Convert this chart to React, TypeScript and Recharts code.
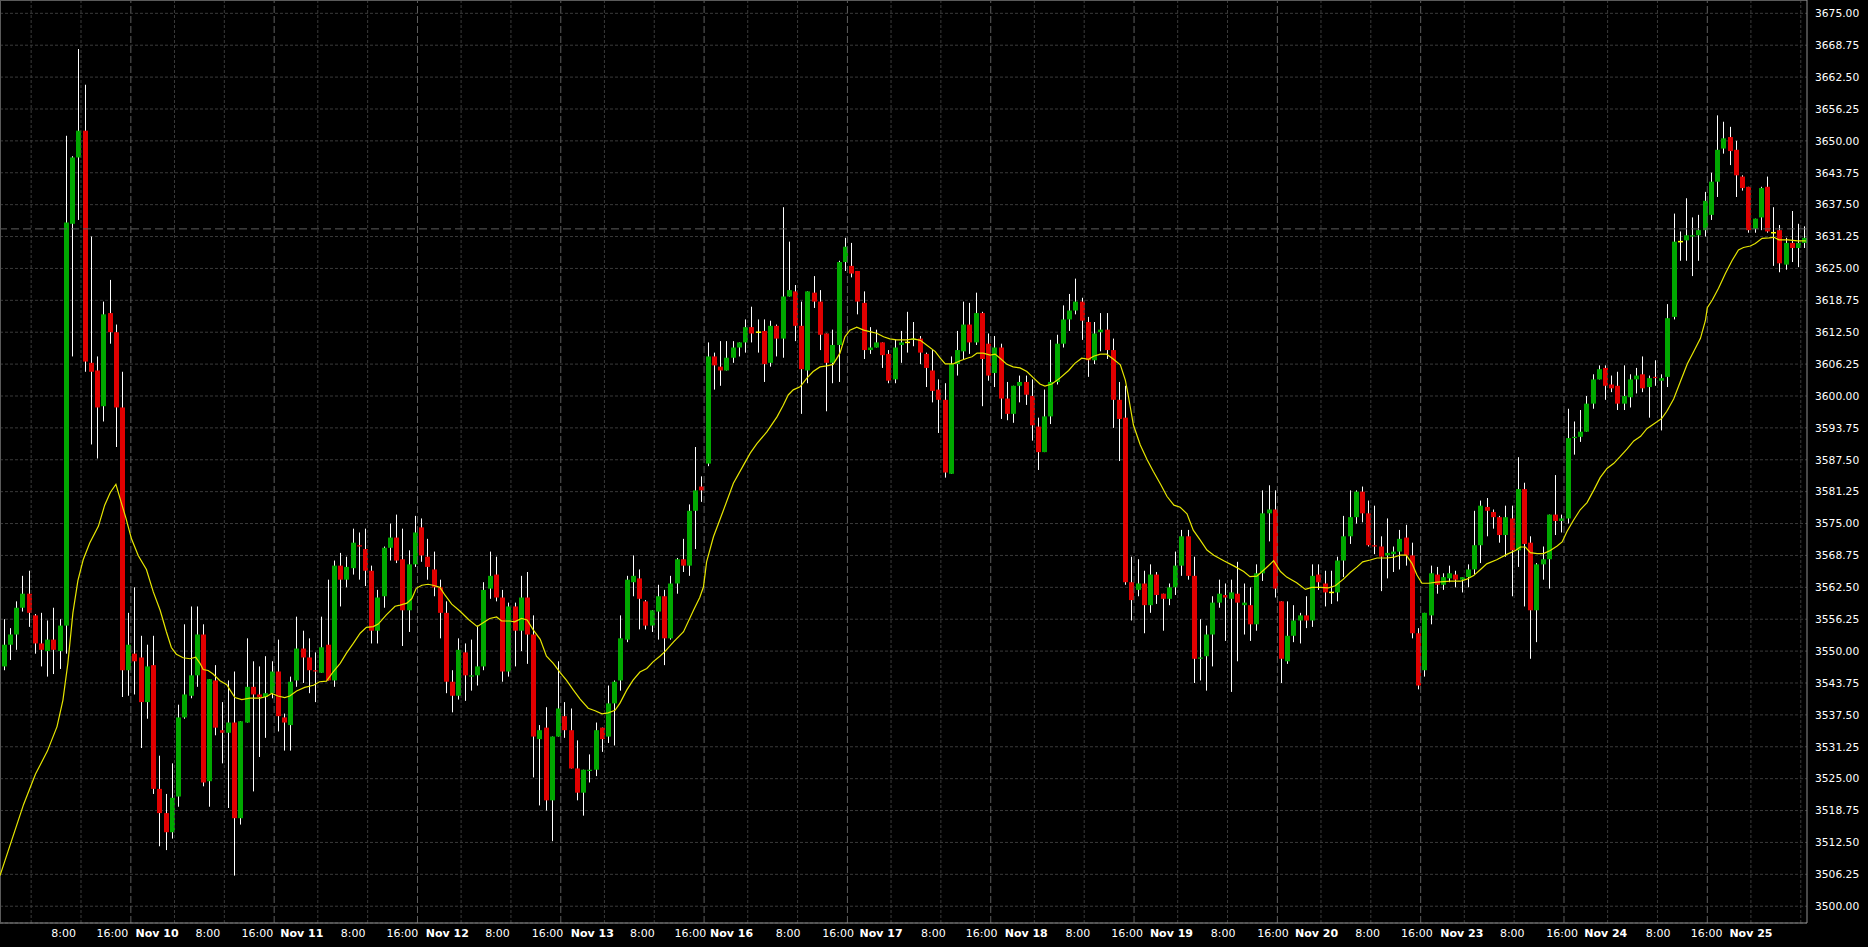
import { ComposedChart, Bar, Line, XAxis, YAxis, CartesianGrid, ReferenceLine } from "recharts"

// hourly bars, Nov 9 03:00 .. Nov 25 16:00 (server time), 23 bars per session
const opens = [
  3547, 3551.25, 3553.25, 3558.5, 3561.25, 3557, 3551.5, 3550, 3552.25, 3550,
  3555, 3633.75, 3646.75, 3652, 3606.5, 3605, 3598, 3616.25, 3612.5, 3597.75,
  3546.25, 3549.5, 3548.75, 3540, 3547.25, 3523, 3518.25, 3514.5, 3521.5, 3537,
  3541.25, 3545.25, 3553.25, 3524.5, 3544.25, 3534.5, 3534, 3536, 3517.25, 3536,
  3543, 3541.5, 3541, 3541.75, 3546, 3537, 3535.5, 3544.25, 3550.5, 3548.75,
  3546.25, 3545.75, 3551.25, 3544.25, 3566.75, 3564, 3566.25, 3570.75, 3570, 3565.75,
  3554, 3560.75, 3570.25, 3572.25, 3568, 3558, 3567, 3574.25, 3568.5, 3566,
  3562.5, 3557.5, 3544, 3541.25, 3549.75, 3545, 3545.25, 3547, 3562.25, 3565,
  3560.5, 3546, 3558.75, 3554, 3560.5, 3553.25, 3532.75, 3535, 3520.75, 3533.25,
  3537.25, 3534.5, 3527, 3522.25, 3526.5, 3526.75, 3535, 3533.25, 3539.75, 3544.25,
  3552.25, 3563.5, 3564.25, 3559.75, 3555, 3557.75, 3560.75, 3552.5, 3563.25, 3568,
  3566.75, 3577.5, 3582.25, 3586.75, 3607.75, 3605.75, 3605, 3607.5, 3609.5, 3610.5,
  3613.5, 3612.5, 3612.75, 3606.5, 3613.75, 3611.25, 3619.5, 3620.5, 3613.75, 3605,
  3620.25, 3618.5, 3612.25, 3606.5, 3610, 3626.25, 3625.5, 3624.5, 3618.25, 3609,
  3609.5, 3610.5, 3608.25, 3603.25, 3610, 3610.5, 3611, 3611.25, 3608.25, 3605,
  3601.25, 3599.25, 3584.75, 3606.25, 3608.75, 3614, 3610.5, 3616.25, 3610.25, 3604.5,
  3609.5, 3599.5, 3596.5, 3602, 3602.75, 3600, 3594, 3589, 3596, 3602.75,
  3610.25, 3615, 3616.75, 3618.5, 3614.5, 3607, 3612.5, 3613, 3609, 3599.25,
  3595.75, 3563.5, 3562, 3563.25, 3559, 3565, 3561.25, 3560.25, 3562.5, 3566.75,
  3572.5, 3564.75, 3548.5, 3549, 3553.25, 3559.5, 3561, 3560.25, 3561.25, 3559,
  3559, 3555.25, 3565.25, 3577, 3577.75, 3559.75, 3548, 3553, 3556, 3557,
  3556, 3565, 3563.25, 3561.5, 3561.5, 3567.75, 3572.5, 3576.25, 3581.25, 3577,
  3570.75, 3570.5, 3568.75, 3569, 3569.5, 3572.25, 3568.75, 3553.5, 3546.25, 3557,
  3565, 3563, 3564.25, 3565, 3564, 3564.5, 3566, 3570.75, 3578.25, 3577.25,
  3576.25, 3572.75, 3576, 3569.75, 3581.75, 3571.25, 3558, 3567, 3568, 3576.75,
  3575.5, 3576, 3591.75, 3592, 3593, 3598.5, 3603.25, 3605.5, 3602.25, 3602,
  3598.5, 3599.75, 3603.25, 3604.25, 3601.75, 3603.75, 3603, 3603.75, 3615.5, 3630.25,
  3630.5, 3631.25, 3631.5, 3632.5, 3635.5, 3642, 3648.5, 3650.75, 3648.25, 3643,
  3641, 3632.75, 3635, 3641, 3632, 3632.5, 3625.75, 3630, 3629, 3630,
]

const highs = [
  3556.25, 3554.5, 3559.75, 3564.75, 3565.75, 3557.25, 3557.5, 3556, 3558.5, 3556.25,
  3651, 3647, 3668, 3661, 3631.25, 3607.75, 3618.5, 3622.75, 3614, 3604.75,
  3557.5, 3562.5, 3553, 3551.25, 3553, 3529.5, 3522, 3528, 3539.5, 3555.25,
  3558.75, 3558.75, 3555.25, 3544.5, 3547.25, 3540, 3544.25, 3546, 3536.25, 3552.5,
  3548, 3547, 3549, 3548, 3552.25, 3537.75, 3545, 3556.75, 3554, 3552.5,
  3549.75, 3556.75, 3564, 3567.75, 3569.25, 3568.5, 3574, 3573.25, 3574, 3566.75,
  3562, 3570.5, 3575, 3576.75, 3574, 3569.75, 3576.5, 3576, 3572, 3569.5,
  3564, 3559.75, 3546.25, 3552.5, 3551.5, 3552.25, 3555, 3563.5, 3569.5, 3568.5,
  3562, 3559.5, 3559.5, 3564.75, 3565.5, 3557, 3535.5, 3539, 3533.25, 3548,
  3540, 3538.75, 3532.5, 3526.75, 3529.75, 3536, 3535, 3543.25, 3544.25, 3557,
  3564.75, 3568.75, 3566, 3560, 3558, 3563, 3562, 3564.75, 3568.25, 3572,
  3578.75, 3590, 3584.25, 3610.5, 3608.5, 3610.75, 3610.75, 3610.75, 3610.5, 3615,
  3617.5, 3615, 3615, 3614.75, 3614, 3637, 3630.25, 3621.75, 3618.5, 3620.5,
  3623.5, 3620.75, 3612.25, 3613, 3626.5, 3631, 3630, 3624.5, 3620.5, 3613.5,
  3613, 3610.5, 3609, 3611, 3612.75, 3616.5, 3614.5, 3611.75, 3608.5, 3609,
  3603.25, 3602.5, 3607.75, 3612.75, 3618.5, 3618.25, 3620.25, 3616.5, 3612.25, 3611.75,
  3610.25, 3602.75, 3602, 3604, 3604, 3603.25, 3595.75, 3601.25, 3611, 3612,
  3617.75, 3620, 3623, 3619.25, 3615.5, 3614.5, 3616.25, 3616.25, 3611.25, 3602.75,
  3602, 3568.5, 3568, 3565.75, 3567, 3565.5, 3561.25, 3563.25, 3569.5, 3573.75,
  3573.75, 3568.5, 3556.25, 3555, 3560.75, 3564, 3563.25, 3564, 3567.5, 3563.25,
  3562.5, 3567, 3581.5, 3582.5, 3581.5, 3559.75, 3559.75, 3559, 3557.5, 3560.75,
  3567, 3567, 3565.75, 3565.75, 3568.5, 3576.5, 3581.5, 3581.5, 3582.25, 3579.5,
  3578.5, 3572.5, 3576, 3570.5, 3573.75, 3574.75, 3571.25, 3554.5, 3557.5, 3566.75,
  3566.5, 3565.25, 3566.75, 3565.75, 3564.5, 3567, 3577.5, 3579.5, 3580, 3577.75,
  3576.5, 3578.5, 3578.5, 3588, 3583, 3572.5, 3567.25, 3570.5, 3576.75, 3584.5,
  3576.75, 3597.5, 3595, 3597.25, 3600, 3604.25, 3606, 3606, 3604, 3604.75,
  3606, 3604.25, 3605.5, 3607.75, 3604, 3607, 3604.25, 3618, 3635.75, 3632.25,
  3638.75, 3635, 3635.5, 3640, 3643.75, 3655, 3653.75, 3652.75, 3650, 3643.25,
  3641, 3634.75, 3641, 3643, 3637, 3633.5, 3631, 3636.25, 3633.75, 3633.25,
]

const lows = [
  3546.25, 3548.25, 3550.25, 3557.75, 3554.75, 3549.5, 3547, 3545, 3545.5, 3546.5,
  3549.5, 3607.75, 3634.5, 3604.75, 3590.5, 3587.75, 3595, 3610.25, 3590, 3541,
  3541.25, 3541.5, 3531, 3536.75, 3522, 3511.75, 3511, 3513.25, 3519.5, 3536.75,
  3540.75, 3543, 3523.5, 3519.5, 3533.5, 3528, 3519.25, 3506, 3516, 3536,
  3522.5, 3529.25, 3533, 3540.75, 3534.25, 3530.5, 3530.5, 3543, 3543.75, 3541.75,
  3540, 3545.75, 3544.25, 3543, 3558.75, 3562.5, 3565, 3564, 3562.75, 3551.5,
  3551.5, 3558.5, 3567.75, 3567.25, 3551, 3553.75, 3566.5, 3567.5, 3564, 3560.75,
  3552.5, 3541.75, 3538, 3540.5, 3540.25, 3542.25, 3543.25, 3546.25, 3560.25, 3559.75,
  3544, 3545, 3547, 3550, 3547.5, 3525.25, 3519.75, 3518.75, 3512.75, 3533.25,
  3533, 3527, 3520.75, 3517.75, 3524.25, 3525.5, 3530.25, 3532, 3531.5, 3542.25,
  3551.75, 3560.75, 3554.25, 3554.25, 3553.75, 3552.25, 3547.25, 3552.25, 3561.25, 3565.5,
  3564.75, 3570, 3579.25, 3586.25, 3601.25, 3602, 3605, 3606.5, 3607.75, 3608.5,
  3610.5, 3608.5, 3602.75, 3605.75, 3607.75, 3607.5, 3619.5, 3610.75, 3596.5, 3602.5,
  3617.25, 3609, 3597, 3602.5, 3602.75, 3624.5, 3623.25, 3616, 3607.25, 3608.25,
  3609.5, 3605.5, 3602.5, 3602.5, 3606.5, 3608.5, 3609.75, 3606.25, 3601.75, 3598.75,
  3592.75, 3584, 3584.75, 3604, 3607.25, 3608.25, 3610, 3598, 3603, 3601.75,
  3595.5, 3595.25, 3594.75, 3598.75, 3598.25, 3591.25, 3585.5, 3589, 3594.5, 3602.25,
  3609.5, 3612.75, 3616, 3611, 3603.75, 3606.25, 3608.75, 3607.25, 3593.75, 3587.25,
  3563, 3556, 3560.75, 3553.5, 3557.5, 3559.25, 3554, 3559, 3561, 3564.75,
  3564, 3543.75, 3544.25, 3542.25, 3547, 3558.5, 3552, 3542, 3548, 3553.25,
  3552, 3554, 3563.75, 3571.5, 3560.5, 3543.75, 3547.5, 3551.75, 3551.5, 3554.5,
  3554.75, 3562, 3558.75, 3559.25, 3559.75, 3564.5, 3571, 3575, 3575.25, 3570.5,
  3569, 3561.75, 3564.25, 3565.5, 3566, 3566.75, 3552.5, 3542.5, 3545, 3555.25,
  3561.25, 3562, 3563.5, 3562.5, 3561.5, 3562.5, 3565, 3567.25, 3572.5, 3574,
  3571.25, 3568.5, 3560.75, 3566.5, 3558.75, 3548.5, 3551.75, 3564, 3562.25, 3572.75,
  3573.25, 3575, 3588.5, 3591, 3593, 3597.5, 3603.25, 3599.25, 3600.75, 3597.25,
  3597.25, 3597.75, 3600.5, 3600.75, 3595.75, 3602, 3593.25, 3601.75, 3615, 3626.5,
  3626.5, 3623.5, 3626.5, 3631.25, 3634.5, 3639, 3647.5, 3645.25, 3639, 3640.25,
  3632, 3632, 3632.5, 3632, 3625.5, 3624.25, 3624.75, 3626.25, 3625.25, 3629,
]

const closes = [
  3551.25, 3553.25, 3558.5, 3561.25, 3557.5, 3551.5, 3550.25, 3552.25, 3550.25, 3555,
  3634, 3646.75, 3652, 3606.75, 3604.75, 3597.75, 3616, 3612.5, 3597.75, 3546.25,
  3551.25, 3548, 3540, 3547, 3523, 3518.25, 3514.5, 3521.25, 3537, 3541.5,
  3545.25, 3553.25, 3524.25, 3544.5, 3535, 3534, 3536, 3517.25, 3536.25, 3543,
  3541.5, 3541, 3541.75, 3546, 3537.25, 3536, 3544, 3550.5, 3548.75, 3546.25,
  3546, 3550.75, 3544.25, 3566.75, 3564, 3566.5, 3571.25, 3570.5, 3565.75, 3554,
  3560.5, 3570.25, 3572.25, 3567.75, 3558, 3567, 3573.25, 3568.75, 3566.5, 3562.5,
  3557.5, 3544, 3541.25, 3550.25, 3545.25, 3545.25, 3547, 3562, 3564.75, 3560.5,
  3546, 3558.75, 3554, 3560.5, 3553.25, 3533.25, 3534.5, 3520.75, 3533.25, 3538.75,
  3534.5, 3527, 3522.25, 3526.75, 3526.75, 3534.5, 3532.75, 3539.75, 3544, 3552.5,
  3564, 3564.75, 3560.25, 3555, 3558, 3560.75, 3552.5, 3563.25, 3568, 3566.75,
  3577.5, 3581.5, 3581.5, 3607.75, 3606, 3605, 3607.5, 3609.5, 3610.5, 3613.5,
  3612.25, 3612.5, 3606.25, 3613.75, 3611.25, 3619.5, 3620.75, 3613.75, 3605.25, 3620.5,
  3618.5, 3612, 3606.5, 3610, 3626.25, 3629.25, 3624, 3618.5, 3609, 3609.5,
  3610.5, 3608, 3603, 3609.5, 3610.5, 3610.5, 3611.25, 3608.5, 3605.5, 3601,
  3599.25, 3585, 3606.25, 3609, 3614, 3610.5, 3616.25, 3607.25, 3604, 3609.5,
  3599.5, 3596.5, 3602, 3602.75, 3600.25, 3594.25, 3589, 3596, 3602.75, 3610.25,
  3615, 3616.75, 3618.5, 3614.75, 3607, 3612.25, 3613, 3609, 3599.25, 3595.5,
  3563.5, 3560, 3563.25, 3559, 3565, 3561, 3560.25, 3562.5, 3566.75, 3572.5,
  3564.75, 3548.5, 3548.75, 3553.25, 3559.5, 3561.25, 3560.5, 3561.5, 3559.5, 3559.5,
  3555.25, 3565.25, 3577, 3577.75, 3562.25, 3548.5, 3553, 3556, 3557, 3556,
  3564.75, 3563.5, 3561.5, 3561.5, 3567.75, 3572.5, 3576.25, 3581.25, 3577, 3570.75,
  3570.5, 3568.5, 3569.25, 3569.5, 3572, 3568.75, 3553.5, 3543.25, 3557.5, 3565.25,
  3563, 3564.5, 3565.25, 3564, 3564.5, 3566, 3570.75, 3578.5, 3577.5, 3576.25,
  3572.75, 3576.25, 3569.75, 3581.75, 3571, 3558, 3567, 3568, 3576.75, 3575.5,
  3576, 3591.75, 3592, 3593, 3598.5, 3603.25, 3605.25, 3602, 3601.5, 3598.5,
  3600, 3603.25, 3604, 3601.5, 3603.5, 3603.5, 3603.5, 3615.25, 3630.25, 3630.25,
  3631.5, 3631.5, 3632.5, 3638.25, 3642, 3648.25, 3650.5, 3648, 3643.25, 3640.75,
  3632.5, 3634.75, 3640.75, 3632.25, 3632, 3626, 3630, 3629, 3630, 3631,
]

// yellow moving average as [bar position, price]
const movingAvg: [number, number][] = [
  [-0.5, 3506], [1.4, 3513], [3.3, 3520], [5.2, 3525.9], [7.1, 3530.4], [8.65, 3535.2],
  [9.6, 3540.4], [10.4, 3547.7], [11.2, 3557.5], [12, 3563.8], [12.85, 3567.9], [13.9, 3571.2],
  [15.3, 3574.5], [16.3, 3578.6], [17.2, 3581.1], [18.1, 3582.7], [18.8, 3579.8], [19.7, 3576.1],
  [20.6, 3572], [21.7, 3568.7], [23, 3566], [24.1, 3561.6], [25.2, 3558], [26.2, 3553.8],
  [27, 3550.7], [27.8, 3549.4], [28.9, 3548.7], [30, 3548.5], [30.9, 3548.8], [31.6, 3547.6],
  [32.1, 3546.4], [32.9, 3546.2], [33.7, 3545.5], [34.8, 3544.2], [35.9, 3543.4], [36.4, 3542.4],
  [37.2, 3540.9], [38.3, 3540.5], [39.6, 3540.8], [41.2, 3540.8], [42.3, 3541.1], [43.1, 3541.7],
  [44.1, 3541.2], [45.2, 3540.9], [46, 3541.2], [47.1, 3542.2], [48.4, 3542.9], [49.8, 3543.3],
  [50.8, 3544], [51.9, 3544.1], [53, 3546], [54.1, 3547.6], [55.1, 3549.6], [56.2, 3551.5],
  [57.3, 3553.5], [58.3, 3554.65], [59.4, 3554.8], [60.2, 3555.3], [61.5, 3557.1], [62.9, 3558.8],
  [63.7, 3559], [64.8, 3559.4], [65.6, 3560.3], [66.3, 3562.3], [67.2, 3562.9], [68.2, 3563.1],
  [69, 3562.9], [70.1, 3562.5], [70.9, 3561], [72, 3559.2], [73.3, 3557.85], [74.7, 3556.2],
  [76.1, 3554.8], [77.1, 3555.6], [78.1, 3556.4], [79.2, 3556.7], [80, 3555.9], [81.3, 3555.9],
  [82.1, 3555.75], [83.2, 3556.4], [84.1, 3556.1], [85.1, 3554.1], [86.2, 3552.3], [87.2, 3549],
  [88.3, 3547.6], [89.4, 3545.8], [90.4, 3544.3], [91.5, 3542.4], [92.6, 3540.6], [93.9, 3538.8],
  [95, 3538.3], [96.1, 3537.7], [97.1, 3537.9], [98.2, 3538.4], [99, 3539.8], [100.1, 3542.4],
  [101.1, 3544.3], [102.2, 3545.9], [103.3, 3546.6], [104.3, 3547.9], [105.4, 3549], [106.2, 3549.9],
  [107.6, 3551.8], [109.2, 3553.8], [110.8, 3558], [111.8, 3560.5], [112.4, 3562.6], [112.9, 3567.5],
  [114, 3572.4], [115.6, 3577.6], [117.2, 3582.9], [118.8, 3586.4], [119.9, 3588.8], [121, 3590.7],
  [122.6, 3593], [124.2, 3595.9], [125.2, 3598.2], [126, 3600.2], [126.8, 3601.2], [127.9, 3601.8],
  [129, 3603.5], [130, 3604.8], [131.1, 3605.7], [132.2, 3605.9], [133.2, 3606.2], [134.3, 3608.4],
  [135.1, 3611.6], [135.9, 3612.9], [137, 3613.5], [138.1, 3612.9], [139.1, 3612.6], [140.2, 3612.3],
  [141.3, 3611.6], [142.3, 3611.2], [143.4, 3611], [145, 3611], [146.1, 3611.2], [147.2, 3610.9],
  [148.2, 3610], [149.6, 3608.7], [150.4, 3607.4], [151.2, 3606.3], [152.5, 3606.3], [153.6, 3606.9],
  [154.7, 3607.4], [155.5, 3607.7], [156.3, 3608.4], [157.3, 3608.4], [158.4, 3608], [159.2, 3608.2],
  [160, 3607.4], [161.1, 3606.2], [162.1, 3605.7], [163.2, 3605.5], [164.3, 3604.8], [165.4, 3603.5],
  [166.4, 3602.35], [167.2, 3601.95], [168.3, 3602.35], [169.6, 3603.5], [171, 3605], [172, 3606.4],
  [173.1, 3607.4], [174.2, 3607.2], [175, 3607.8], [176.1, 3608.2], [177.1, 3608.2], [178.2, 3607.2],
  [179.3, 3606.1], [180.1, 3603.1], [180.6, 3599.9], [181.4, 3594.3], [182.5, 3590.4], [183.6, 3587.5],
  [184.6, 3585.2], [185.8, 3582.6], [186.8, 3580.3], [187.9, 3578.6], [188.9, 3578.2], [190, 3576.9],
  [191, 3573.7], [192.1, 3571.8], [193.2, 3569.8], [194.3, 3568.8], [195.9, 3567.7], [197.5, 3566.7],
  [199.1, 3565.6], [200.1, 3564.6], [201.2, 3564.7], [202.6, 3566.2], [203.9, 3567.7], [205, 3565.6],
  [206, 3564.5], [207.6, 3563.4], [209, 3562.1], [210, 3562.5], [211.4, 3562.5], [212.7, 3562.4],
  [213.8, 3562.8], [215.1, 3564.1], [216.2, 3565.4], [217.3, 3566.5], [218.2, 3567.5], [219.4, 3567.85],
  [220.5, 3568.25], [222.1, 3568.25], [223.2, 3568.4], [224.2, 3568.8], [225.2, 3568.8], [226.1, 3567.2],
  [226.9, 3564.9], [227.7, 3563.3], [228.8, 3563.3], [230.1, 3563.5], [232.3, 3563.7], [233.9, 3563.7],
  [234.9, 3564.1], [236, 3564.8], [237.1, 3566], [238.1, 3567.1], [239.7, 3567.9], [241.4, 3569],
  [242.7, 3569.7], [243.5, 3570.4], [244.3, 3570.4], [245.1, 3569.3], [246.2, 3569.1], [247.2, 3569.1],
  [248.3, 3569.7], [249.4, 3570.6], [250.2, 3571.4], [251, 3573.5], [252, 3575.6], [253.1, 3577.7],
  [254.2, 3579.1], [255.3, 3581.6], [256.3, 3584], [257.4, 3585.8], [258.5, 3586.8], [259.5, 3588.1],
  [260.6, 3589.6], [261.7, 3591.2], [262.8, 3592.1], [263.8, 3593.6], [264.9, 3594.5], [266.2, 3595.6],
  [267, 3597], [268.1, 3599.4], [269.2, 3602.9], [270.3, 3606.3], [271.4, 3608.9], [272.4, 3611.3],
  [273.2, 3614.8], [273.5, 3617.3], [274.3, 3618.8], [275.3, 3621.1], [276.4, 3624], [277.5, 3626.6],
  [278.5, 3628.6], [279.3, 3629.1], [280.4, 3629.4], [281.2, 3629.9], [282.3, 3630.9], [283.4, 3631],
  [284.2, 3631.1], [285, 3630.6], [286.4, 3630.6], [288, 3630.4], [289.3, 3630.4],
]

const priceTicks = [
  3500, 3506.25, 3512.5, 3518.75, 3525, 3531.25, 3537.5, 3543.75, 3550, 3556.25,
  3562.5, 3568.75, 3575, 3581.25, 3587.5, 3593.75, 3600, 3606.25, 3612.5, 3618.75,
  3625, 3631.25, 3637.5, 3643.75, 3650, 3656.25, 3662.5, 3668.75, 3675,
]

// time labels and where they sit along the bar index
const timeTickAt = [
  9.7, 17.55, 24.72, 32.86, 40.81, 47.94, 56.16, 64.07, 71.28, 79.34, 87.37, 94.56,
  102.6, 110.3, 116.9, 125.97, 134, 140.9, 149.3, 157.05, 164.2, 172.5, 180.4, 187.5,
  195.8, 203.8, 210.8, 219, 226.9, 234.1, 242.2, 250.2, 257.2, 265.6, 273.4, 280.5,
]
const timeTickText = [
  "8:00", "16:00", "Nov 10", "8:00", "16:00", "Nov 11", "8:00", "16:00", "Nov 12", "8:00", "16:00", "Nov 13",
  "8:00", "16:00", "Nov 16", "8:00", "16:00", "Nov 17", "8:00", "16:00", "Nov 18", "8:00", "16:00", "Nov 19",
  "8:00", "16:00", "Nov 20", "8:00", "16:00", "Nov 23", "8:00", "16:00", "Nov 24", "8:00", "16:00", "Nov 25",
]

// first bar of each session, and the 8:00 / 16:00 bars
const sessionStart = [21, 44, 67, 90, 113, 136, 159, 182, 205, 228, 251, 274]
const hourBars = [
  5, 13, 28, 36, 51, 59, 74, 82, 97, 105, 120, 128, 143, 151, 166, 174,
  189, 197, 212, 220, 235, 243, 258, 266, 281, 289,
]

const lastPrice = 3632.75

const Y_MIN = 3496.71
const Y_MAX = 3677.61
const X_MIN = -0.5
const X_MAX = opens.length - 0.5

const UP = "#00a800"
const DOWN = "#e00000"
const DOJI = "#ffff00"
const WICK = "#ffffff"
const FONT = "DejaVu Sans, sans-serif"
const LABEL_BASELINE = 937

const bars = opens.map((o, i) => ({ i, t: i, o, h: highs[i], l: lows[i], c: closes[i] }))
const maData = movingAvg.map(([t, ma]) => ({ t, ma }))

function Candle(props: any) {
  const { x, y, width, height, payload } = props
  if (x == null || payload == null) return null
  const { o, h, l, c } = payload
  const top = Math.min(y, y + height)
  const bot = Math.max(y, y + height)
  const k = h > l ? (bot - top) / (h - l) : 0
  const py = (v: number) => top + (h - v) * k
  // bars sit about a pixel right of the slot centre in the original
  const cx = Math.floor(x + width / 2 + 1)
  const yo = py(o)
  const yc = py(c)
  const bt = Math.min(yo, yc)
  const bb = Math.max(yo, yc)
  return (
    <g>
      <line x1={cx + 0.5} x2={cx + 0.5} y1={top} y2={bot} stroke={WICK} strokeWidth={1} />
      {o === c ? (
        <rect x={cx - 2} y={yo - 0.75} width={5} height={1.5} fill={DOJI} />
      ) : (
        <rect x={cx - 2} y={bt} width={5} height={Math.max(1, bb - bt)} fill={c > o ? UP : DOWN} />
      )}
    </g>
  )
}

function TimeTick(props: any) {
  const { x, payload } = props
  const text = timeTickText[payload.index] ?? ""
  const day = text.startsWith("Nov")
  return (
    <text x={x} y={LABEL_BASELINE} textAnchor="middle" fill="#ffffff" fontSize={11}
      fontWeight={day ? 700 : 400} fontFamily={FONT}>
      {text}
    </text>
  )
}

function PriceTick(props: any) {
  const { x, y, payload } = props
  return (
    <text x={x} y={y} dy="0.355em" textAnchor="start" fill="#ffffff" fontSize={10.7} fontFamily={FONT}>
      {Number(payload.value).toFixed(2)}
    </text>
  )
}

export default function App() {
  return (
    <div style={{ position: "fixed", left: 0, top: 0, width: 1868, height: 947, background: "#000" }}>
      <ComposedChart width={1868} height={947} data={bars} margin={{ top: 0, right: 0, bottom: 0, left: 0 }}>
        <XAxis
          xAxisId="t"
          dataKey="t"
          type="number"
          domain={[X_MIN, X_MAX]}
          allowDataOverflow
          ticks={timeTickAt}
          interval={0}
          height={24}
          tickSize={0}
          tickMargin={6}
          tick={<TimeTick />}
          axisLine={false}
        />
        <XAxis xAxisId="c" dataKey="i" type="category" hide />
        <YAxis
          yAxisId="p"
          orientation="right"
          type="number"
          domain={[Y_MIN, Y_MAX]}
          allowDataOverflow
          ticks={priceTicks}
          interval={0}
          width={61}
          tickSize={0}
          tickMargin={8}
          tick={<PriceTick />}
          axisLine={{ stroke: "#909090" }}
        />
        <CartesianGrid xAxisId="t" yAxisId="p" vertical={false} stroke="#3a3a3a" strokeDasharray="3 2" />
        {hourBars.map((b) => (
          <ReferenceLine key={`h${b}`} xAxisId="t" yAxisId="p" x={b - 0.5} stroke="#3a3a3a" strokeDasharray="3 2" />
        ))}
        {sessionStart.map((b) => (
          <ReferenceLine key={`s${b}`} xAxisId="t" yAxisId="p" x={b - 0.5} stroke="#5e5e5e" strokeDasharray="7 3" />
        ))}
        <ReferenceLine xAxisId="t" yAxisId="p" y={lastPrice} stroke="#5e5e5e" strokeDasharray="8 4" />
        <ReferenceLine xAxisId="t" yAxisId="p" y={Y_MAX} stroke="#5a5a5a" strokeWidth={2} />
        <ReferenceLine xAxisId="t" yAxisId="p" y={Y_MIN} stroke="#909090" strokeWidth={1} />
        <ReferenceLine xAxisId="t" yAxisId="p" x={X_MIN} stroke="#5a5a5a" strokeWidth={2} />
        <Bar
          xAxisId="c"
          yAxisId="p"
          dataKey={(d: any) => [d.l, d.h]}
          shape={<Candle />}
          isAnimationActive={false}
        />
        <Line
          xAxisId="t"
          yAxisId="p"
          data={maData}
          dataKey="ma"
          type="linear"
          stroke="#e6e600"
          strokeWidth={1.2}
          dot={false}
          activeDot={false}
          isAnimationActive={false}
        />
      </ComposedChart>
    </div>
  )
}
